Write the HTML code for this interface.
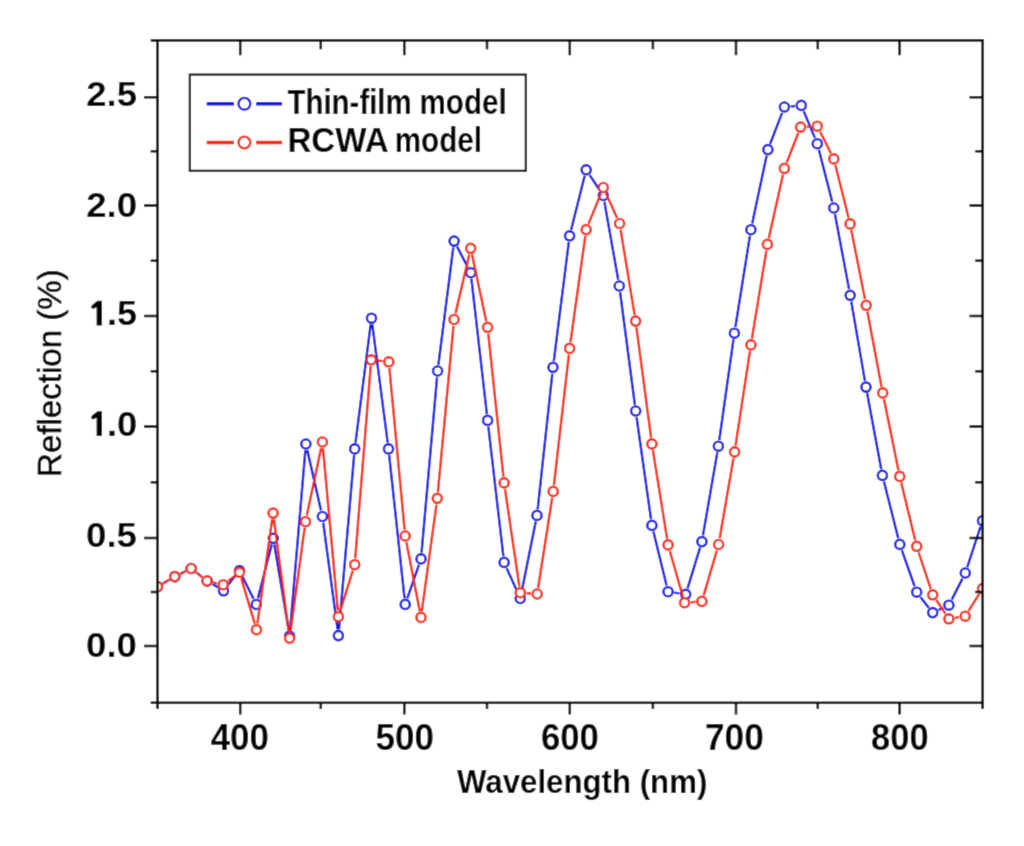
<!DOCTYPE html>
<html><head><meta charset="utf-8"><title>Reflection chart</title>
<style>
html,body{margin:0;padding:0;background:#fff;}
body{width:1024px;height:846px;overflow:hidden;font-family:"Liberation Sans",sans-serif;}
svg{display:block;}
</style></head><body>
<svg width="1024" height="846" viewBox="0 0 1024 846">
<defs><filter id="bl" x="0" y="0" width="1024" height="846" filterUnits="userSpaceOnUse"><feConvolveMatrix order="3" kernelMatrix="1 6 1 6 36 6 1 6 1" divisor="64" edgeMode="duplicate" preserveAlpha="true"/></filter></defs>
<rect width="1024" height="846" fill="#fff"/><g filter="url(#bl)"><rect width="1024" height="846" fill="#fff"/>
<defs><clipPath id="pa"><rect x="157.5" y="40.4" width="825.1" height="662.4"/></clipPath></defs>
<g clip-path="url(#pa)">
<path d="M162.93 583.51L169.27 579.79M180.36 573.82L185.54 571.28M196.18 572.36L202.32 577.14M212.69 584.26L218.11 587.54M227.41 585.86L235.59 575.54M242.30 576.24L253.50 598.86M257.87 598.40L271.73 544.40M274.34 544.51L288.56 629.79M290.13 629.72L305.37 450.28M307.30 450.14L321.00 510.36M323.24 522.74L337.56 629.36M338.95 629.32L354.15 455.18M355.50 442.65L370.70 324.45M372.31 324.45L387.69 442.65M389.17 455.16L404.53 598.14M407.27 598.45L418.93 564.85M421.55 552.62L437.05 377.28M438.39 364.75L453.31 247.35M457.03 246.68L467.77 267.12M471.42 278.96L486.88 414.14M488.33 426.66L503.37 556.14M506.68 568.15L517.72 592.75M521.54 592.32L535.76 521.58M537.68 509.14L552.32 373.56M553.79 361.05L568.81 242.05M571.14 229.69L584.66 175.91M589.69 175.05L599.81 190.25M604.40 201.70L618.20 279.80M620.12 292.25L634.88 404.75M636.58 417.24L651.02 519.16M653.40 531.52L666.60 585.58M674.33 592.62L679.47 593.38M687.55 588.28L700.05 547.62M702.97 535.39L717.33 452.41M719.28 439.96L733.52 339.44M735.39 326.98L749.91 235.92M752.21 223.54L766.59 155.76M770.18 143.73L782.12 112.87M790.67 106.41L795.03 105.99M803.73 111.21L814.87 137.89M818.87 149.80L832.23 201.90M834.96 214.19L849.04 289.11M851.27 301.51L864.93 380.89M867.15 393.29L881.25 469.21M883.94 481.51L898.26 538.29M901.90 550.34L914.60 586.26M920.59 597.16L928.81 607.64M938.43 609.98L943.17 607.82M951.76 599.59L962.44 578.61M967.27 567.02L980.53 526.68" fill="none" stroke="#0a10e8" stroke-width="2.4" stroke-linecap="butt"/><g fill="#fff" stroke="#0a10e8" stroke-width="2.4"><circle cx="157.50" cy="586.70" r="4.6"/><circle cx="174.70" cy="576.60" r="4.6"/><circle cx="191.20" cy="568.50" r="4.6"/><circle cx="207.30" cy="581.00" r="4.6"/><circle cx="223.50" cy="590.80" r="4.6"/><circle cx="239.50" cy="570.60" r="4.6"/><circle cx="256.30" cy="604.50" r="4.6"/><circle cx="273.30" cy="538.30" r="4.6"/><circle cx="289.60" cy="636.00" r="4.6"/><circle cx="305.90" cy="444.00" r="4.6"/><circle cx="322.40" cy="516.50" r="4.6"/><circle cx="338.40" cy="635.60" r="4.6"/><circle cx="354.70" cy="448.90" r="4.6"/><circle cx="371.50" cy="318.20" r="4.6"/><circle cx="388.50" cy="448.90" r="4.6"/><circle cx="405.20" cy="604.40" r="4.6"/><circle cx="421.00" cy="558.90" r="4.6"/><circle cx="437.60" cy="371.00" r="4.6"/><circle cx="454.10" cy="241.10" r="4.6"/><circle cx="470.70" cy="272.70" r="4.6"/><circle cx="487.60" cy="420.40" r="4.6"/><circle cx="504.10" cy="562.40" r="4.6"/><circle cx="520.30" cy="598.50" r="4.6"/><circle cx="537.00" cy="515.40" r="4.6"/><circle cx="553.00" cy="367.30" r="4.6"/><circle cx="569.60" cy="235.80" r="4.6"/><circle cx="586.20" cy="169.80" r="4.6"/><circle cx="603.30" cy="195.50" r="4.6"/><circle cx="619.30" cy="286.00" r="4.6"/><circle cx="635.70" cy="411.00" r="4.6"/><circle cx="651.90" cy="525.40" r="4.6"/><circle cx="668.10" cy="591.70" r="4.6"/><circle cx="685.70" cy="594.30" r="4.6"/><circle cx="701.90" cy="541.60" r="4.6"/><circle cx="718.40" cy="446.20" r="4.6"/><circle cx="734.40" cy="333.20" r="4.6"/><circle cx="750.90" cy="229.70" r="4.6"/><circle cx="767.90" cy="149.60" r="4.6"/><circle cx="784.40" cy="107.00" r="4.6"/><circle cx="801.30" cy="105.40" r="4.6"/><circle cx="817.30" cy="143.70" r="4.6"/><circle cx="833.80" cy="208.00" r="4.6"/><circle cx="850.20" cy="295.30" r="4.6"/><circle cx="866.00" cy="387.10" r="4.6"/><circle cx="882.40" cy="475.40" r="4.6"/><circle cx="899.80" cy="544.40" r="4.6"/><circle cx="916.70" cy="592.20" r="4.6"/><circle cx="932.70" cy="612.60" r="4.6"/><circle cx="948.90" cy="605.20" r="4.6"/><circle cx="965.30" cy="573.00" r="4.6"/><circle cx="982.50" cy="520.70" r="4.6"/></g>
<path d="M162.93 583.51L169.27 579.79M180.36 573.82L185.54 571.28M196.14 572.41L202.06 577.09M213.14 582.40L217.06 583.30M228.21 580.89L234.49 576.11M241.29 578.34L254.71 623.66M257.39 623.46L272.21 519.34M273.92 519.35L288.78 631.95M290.45 631.96L304.65 527.94M306.81 515.54L321.09 448.16M322.97 448.27L337.83 610.43M340.28 610.69L352.82 570.71M355.21 558.42L370.69 366.08M377.46 360.51L382.54 361.09M389.39 368.07L404.61 529.73M406.40 542.18L419.80 611.22M421.85 611.16L436.45 504.54M437.89 492.03L453.51 325.77M455.53 313.36L469.27 254.44M472.02 254.46L486.28 321.14M488.26 333.56L503.44 476.64M505.02 489.13L519.38 586.47M526.58 593.18L530.92 593.52M538.17 587.78L552.23 497.62M553.92 485.14L568.88 354.66M570.47 342.16L585.33 235.84M588.57 223.76L600.93 193.34M605.90 193.24L617.00 217.76M620.62 229.72L634.58 314.88M636.43 327.35L651.07 437.65M652.90 450.12L667.10 538.68M669.83 550.96L682.87 596.64M690.88 602.23L695.62 601.87M703.67 595.35L716.83 550.55M719.67 538.29L733.53 458.11M735.55 445.67L749.95 351.13M751.92 338.68L766.38 250.62M768.78 238.25L783.02 174.55M786.70 162.54L798.30 132.96M806.89 126.76L811.01 126.54M820.14 131.82L830.96 153.28M835.33 165.01L848.57 217.79M851.32 230.08L864.98 299.12M867.37 311.49L881.53 386.71M883.96 399.07L898.44 470.23M901.19 482.52L915.21 540.18M918.67 552.28L930.73 588.82M936.22 600.02L945.38 613.58M955.12 617.81L958.98 617.19M968.56 610.87L979.24 593.93" fill="none" stroke="#fa2204" stroke-width="2.4" stroke-linecap="butt"/><g fill="#fff" stroke="#fa2204" stroke-width="2.4"><circle cx="157.50" cy="586.70" r="4.6"/><circle cx="174.70" cy="576.60" r="4.6"/><circle cx="191.20" cy="568.50" r="4.6"/><circle cx="207.00" cy="581.00" r="4.6"/><circle cx="223.20" cy="584.70" r="4.6"/><circle cx="239.50" cy="572.30" r="4.6"/><circle cx="256.50" cy="629.70" r="4.6"/><circle cx="273.10" cy="513.10" r="4.6"/><circle cx="289.60" cy="638.20" r="4.6"/><circle cx="305.50" cy="521.70" r="4.6"/><circle cx="322.40" cy="442.00" r="4.6"/><circle cx="338.40" cy="616.70" r="4.6"/><circle cx="354.70" cy="564.70" r="4.6"/><circle cx="371.20" cy="359.80" r="4.6"/><circle cx="388.80" cy="361.80" r="4.6"/><circle cx="405.20" cy="536.00" r="4.6"/><circle cx="421.00" cy="617.40" r="4.6"/><circle cx="437.30" cy="498.30" r="4.6"/><circle cx="454.10" cy="319.50" r="4.6"/><circle cx="470.70" cy="248.30" r="4.6"/><circle cx="487.60" cy="327.30" r="4.6"/><circle cx="504.10" cy="482.90" r="4.6"/><circle cx="520.30" cy="592.70" r="4.6"/><circle cx="537.20" cy="594.00" r="4.6"/><circle cx="553.20" cy="491.40" r="4.6"/><circle cx="569.60" cy="348.40" r="4.6"/><circle cx="586.20" cy="229.60" r="4.6"/><circle cx="603.30" cy="187.50" r="4.6"/><circle cx="619.60" cy="223.50" r="4.6"/><circle cx="635.60" cy="321.10" r="4.6"/><circle cx="651.90" cy="443.90" r="4.6"/><circle cx="668.10" cy="544.90" r="4.6"/><circle cx="684.60" cy="602.70" r="4.6"/><circle cx="701.90" cy="601.40" r="4.6"/><circle cx="718.60" cy="544.50" r="4.6"/><circle cx="734.60" cy="451.90" r="4.6"/><circle cx="750.90" cy="344.90" r="4.6"/><circle cx="767.40" cy="244.40" r="4.6"/><circle cx="784.40" cy="168.40" r="4.6"/><circle cx="800.60" cy="127.10" r="4.6"/><circle cx="817.30" cy="126.20" r="4.6"/><circle cx="833.80" cy="158.90" r="4.6"/><circle cx="850.10" cy="223.90" r="4.6"/><circle cx="866.20" cy="305.30" r="4.6"/><circle cx="882.70" cy="392.90" r="4.6"/><circle cx="899.70" cy="476.40" r="4.6"/><circle cx="916.70" cy="546.30" r="4.6"/><circle cx="932.70" cy="594.80" r="4.6"/><circle cx="948.90" cy="618.80" r="4.6"/><circle cx="965.20" cy="616.20" r="4.6"/><circle cx="982.60" cy="588.60" r="4.6"/></g>
</g>
<rect x="157.5" y="40.4" width="825.1" height="662.4" fill="none" stroke="#000" stroke-width="2.5"/><path d="M144.0 97.2H157.5M969.5 97.2H982.6M144.0 205.5H157.5M969.5 205.5H982.6M144.0 316.0H157.5M969.5 316.0H982.6M144.0 426.6H157.5M969.5 426.6H982.6M144.0 537.9H157.5M969.5 537.9H982.6M144.0 646.0H157.5M969.5 646.0H982.6M150.7 151.35H157.5M975.2 151.35H982.6M150.7 260.75H157.5M975.2 260.75H982.6M150.7 371.3H157.5M975.2 371.3H982.6M150.7 482.25H157.5M975.2 482.25H982.6M150.7 591.95H157.5M975.2 591.95H982.6M150.7 702.8H157.5M150.7 40.4H157.5M240.2 702.8V714.6M240.2 40.4V55.2M404.3 702.8V714.6M404.3 40.4V55.2M569.8 702.8V714.6M569.8 40.4V55.2M736.0 702.8V714.6M736.0 40.4V55.2M899.6 702.8V714.6M899.6 40.4V55.2M157.5 702.8V709.0M320.8 702.8V709.0M320.8 40.4V49.3M487.0 702.8V709.0M487.0 40.4V49.3M652.9 702.8V709.0M652.9 40.4V49.3M817.8 702.8V709.0M817.8 40.4V49.3M982.6 702.8V709.0" stroke="#000" stroke-width="2.5" fill="none"/>
<g font-family="Liberation Sans" fill="#000"><text x="86.23" y="106.10" font-size="35.7" font-weight="bold" textLength="50.78" lengthAdjust="spacingAndGlyphs">2.5</text><text x="86.23" y="216.80" font-size="35.7" font-weight="bold" textLength="50.98" lengthAdjust="spacingAndGlyphs">2.0</text><path d="M97.40 300.70L101.90 300.70L101.90 325.40L96.60 325.40L96.60 307.30L92.80 309.00L91.00 307.30L91.80 305.30Z"/><text x="106.95" y="325.40" font-size="35.7" font-weight="bold" textLength="30.05" lengthAdjust="spacingAndGlyphs">.5</text><path d="M97.40 411.20L101.90 411.20L101.90 436.10L96.60 436.10L96.60 417.80L92.80 419.50L91.00 417.80L91.80 415.80Z"/><text x="106.94" y="435.80" font-size="35.7" font-weight="bold" textLength="30.25" lengthAdjust="spacingAndGlyphs">.0</text><text x="86.05" y="546.70" font-size="35.7" font-weight="bold" textLength="50.97" lengthAdjust="spacingAndGlyphs">0.5</text><text x="86.05" y="657.30" font-size="35.7" font-weight="bold" textLength="50.85" lengthAdjust="spacingAndGlyphs">0.0</text><text x="210.67" y="749.90" font-size="36.4" font-weight="bold" textLength="58.26" lengthAdjust="spacingAndGlyphs">400</text><text x="375.42" y="749.90" font-size="36.4" font-weight="bold" textLength="58.52" lengthAdjust="spacingAndGlyphs">500</text><text x="540.93" y="749.90" font-size="36.4" font-weight="bold" textLength="58.00" lengthAdjust="spacingAndGlyphs">600</text><text x="704.98" y="749.90" font-size="36.4" font-weight="bold" textLength="58.97" lengthAdjust="spacingAndGlyphs">700</text><text x="871.11" y="749.90" font-size="36.4" font-weight="bold" textLength="57.51" lengthAdjust="spacingAndGlyphs">800</text></g>
<g font-family="Liberation Sans" fill="#000"><text x="456.97" y="792.80" font-size="34.0" font-weight="bold" textLength="250.38" lengthAdjust="spacingAndGlyphs">Wavelength (nm)</text><g transform="rotate(-90)"><text x="-477.01" y="61.00" font-size="33.5" font-weight="normal" textLength="207.77" lengthAdjust="spacingAndGlyphs" stroke="#000" stroke-width="0.6">Reflection (%)</text></g></g>
<rect x="189.8" y="74.6" width="336" height="96.2" fill="#fff" stroke="#000" stroke-width="2.1"/><path d="M206.7 103.8H234M256.1 103.8H282.1" stroke="#0a10e8" stroke-width="3.4"/><circle cx="244.4" cy="103.8" r="5.9" fill="#fff" stroke="#0a10e8" stroke-width="2.3"/><path d="M206.7 142.5H234M256.1 142.5H282.1" stroke="#fa2204" stroke-width="3.4"/><circle cx="244.4" cy="142.5" r="5.9" fill="#fff" stroke="#fa2204" stroke-width="2.3"/><g font-family="Liberation Sans" fill="#000"><text x="287.47" y="114.20" font-size="35.0" font-weight="bold" textLength="124.26" lengthAdjust="spacingAndGlyphs">Thin-film</text><text x="419.45" y="114.20" font-size="35.0" font-weight="bold" textLength="87.25" lengthAdjust="spacingAndGlyphs">model</text><text x="287.42" y="152.10" font-size="35.0" font-weight="bold" textLength="101.24" lengthAdjust="spacingAndGlyphs">RCWA</text><text x="394.74" y="152.00" font-size="35.0" font-weight="bold" textLength="87.36" lengthAdjust="spacingAndGlyphs">model</text></g>
</g></svg>
</body></html>
